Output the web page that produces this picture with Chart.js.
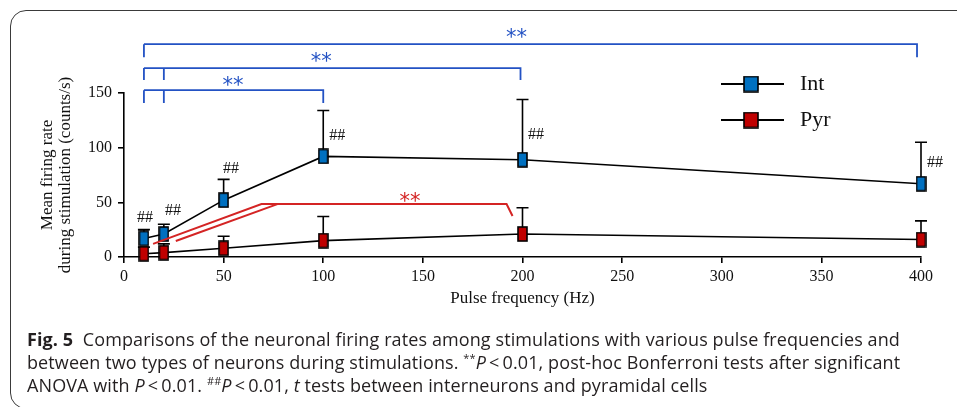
<!DOCTYPE html>
<html>
<head>
<meta charset="utf-8">
<script src="https://cdn.jsdelivr.net/npm/chart.js@4"></script>
<style>
  body { margin: 0; background: #fff; }
  #wrap { position: relative; width: 957px; height: 407px; overflow: hidden; }
  #frame {
    position: absolute; left: 10px; top: 10px; width: 1000px; height: 397px;
    border: 1.5px solid #3a3a3a; border-radius: 16px;
  }
  #cap {
    position: absolute; left: 27px; top: 328px;
    font-family: "Open Sans", sans-serif; font-size: 18px; line-height: 23px;
    letter-spacing: 0.1px; color: #231f20; white-space: nowrap;
  }
  #cap sup { font-size: 11px; line-height: 0; }
</style>
</head>
<body>
<div id="wrap">
  <canvas id="firing" width="957" height="407"></canvas>
  <div id="frame"></div>
  <div id="cap">
    <b>Fig. 5</b>&nbsp; Comparisons of the neuronal firing rates among stimulations with various pulse frequencies and<br>
    between two types of neurons during stimulations. <sup>**</sup><i>P</i>&thinsp;&lt;&thinsp;0.01, post-hoc Bonferroni tests after significant<br>
    ANOVA with <i>P</i>&thinsp;&lt;&thinsp;0.01. <sup>##</sup><i>P</i>&thinsp;&lt;&thinsp;0.01, <i>t</i> tests between interneurons and pyramidal cells
  </div>
</div>
<script>
const freqs = [10, 20, 50, 100, 200, 400];
const intMean = [17, 21, 52, 92, 89, 67];
const intErr = [8, 9, 19, 42, 55, 38];
const pyrMean = [3, 4, 8, 15, 21, 16];
const pyrErr = [6, 8, 11, 22, 24, 17];

// "##" marks next to Int points (data coords)
const hashMarks = [[10.5, 35.6], [24.6, 42], [53.7, 81], [107, 110.6], [206.8, 111.5], [407, 86]];

// blue ** brackets for Int
const blueBrackets = [
  { y: 194.7, end: 182.8, stems: [10], to: 398, star: [197, 205.5] },
  { y: 172.8, end: 161.8, stems: [10, 20], to: 199, star: [99, 183.5] },
  { y: 152.6, end: 140.8, stems: [10, 20], to: 100, star: [54.7, 161.5] },
];
// red ** bracket for Pyr
const redLines = [
  [[14.6, 12], [69, 48.4], [192, 48.4], [195, 37.5]],
  [[26, 14.6], [77, 48.4]],
];
const redStar = [143.5, 55.5];

const BLUE = "#0070c0", RED = "#c00000";
const SIG_BLUE = "#2352c4", SIG_RED = "#d42424";
const SERIF = "'Liberation Serif', 'Times New Roman', serif";
const STAR_FONT = "21px 'DejaVu Sans', sans-serif";

function box(fill, w, h) {
  const c = document.createElement("canvas");
  c.width = w; c.height = h;
  const g = c.getContext("2d");
  g.fillStyle = fill;
  g.fillRect(1, 1, w - 2, h - 2);
  g.strokeStyle = "#000";
  g.lineWidth = 1.6;
  g.strokeRect(1, 1, w - 2, h - 2);
  return c;
}

const series = [
  { label: "Int", mean: intMean, err: intErr, color: BLUE },
  { label: "Pyr", mean: pyrMean, err: pyrErr, color: RED },
];

const extras = {
  id: "extras",
  beforeDatasetsDraw(chart) {
    const { ctx, scales: { x, y } } = chart;
    ctx.save();
    ctx.strokeStyle = "#000";
    ctx.lineWidth = 1.6;
    series.forEach((s, di) => {
      chart.getDatasetMeta(di).data.forEach((pt, i) => {
        const top = y.getPixelForValue(s.mean[i] + s.err[i]);
        ctx.beginPath();
        ctx.moveTo(pt.x, pt.y);
        ctx.lineTo(pt.x, top);
        ctx.moveTo(pt.x - 6, top);
        ctx.lineTo(pt.x + 6, top);
        ctx.stroke();
      });
    });
    ctx.restore();
  },
  afterDraw(chart) {
    const { ctx, scales: { x, y } } = chart;
    const px = (v) => x.getPixelForValue(v);
    const py = (v) => y.getPixelForValue(v);
    ctx.save();

    // ## marks
    ctx.fillStyle = "#111";
    ctx.font = "16px " + SERIF;
    ctx.textAlign = "center";
    ctx.textBaseline = "middle";
    hashMarks.forEach(([hx, hy]) => ctx.fillText("##", px(hx), py(hy)));

    // blue brackets
    ctx.textBaseline = "alphabetic";
    ctx.strokeStyle = SIG_BLUE;
    ctx.fillStyle = SIG_BLUE;
    ctx.lineWidth = 1.8;
    ctx.font = STAR_FONT;
    blueBrackets.forEach((b) => {
      ctx.beginPath();
      ctx.moveTo(px(b.stems[0]), py(b.y));
      ctx.lineTo(px(b.to), py(b.y));
      ctx.lineTo(px(b.to), py(b.end));
      b.stems.forEach((sx) => {
        ctx.moveTo(px(sx), py(b.y));
        ctx.lineTo(px(sx), py(b.end));
      });
      ctx.stroke();
      ctx.fillText("**", px(b.star[0]), py(b.star[1]) + 12);
    });

    // red bracket
    ctx.strokeStyle = SIG_RED;
    ctx.fillStyle = SIG_RED;
    ctx.lineWidth = 2;
    redLines.forEach((ln) => {
      ctx.beginPath();
      ln.forEach(([lx, ly], k) => k ? ctx.lineTo(px(lx), py(ly)) : ctx.moveTo(px(lx), py(ly)));
      ctx.stroke();
    });
    ctx.fillText("**", px(redStar[0]), py(redStar[1]) + 12);

    // legend
    ctx.textAlign = "left";
    ctx.textBaseline = "middle";
    ctx.font = "22px " + SERIF;
    series.forEach((s, i) => {
      const ly = 84 + i * 36;
      ctx.strokeStyle = "#000";
      ctx.lineWidth = 2;
      ctx.beginPath();
      ctx.moveTo(721, ly);
      ctx.lineTo(784, ly);
      ctx.stroke();
      ctx.drawImage(box(s.color, 16, 17), 743, ly - 8.5);
      ctx.fillStyle = "#111";
      ctx.fillText(s.label, 800, ly);
    });
    ctx.restore();
  },
};

new Chart(document.getElementById("firing"), {
  type: "line",
  data: {
    datasets: series.map((s) => ({
      label: s.label,
      data: freqs.map((f, i) => ({ x: f, y: s.mean[i] })),
      borderColor: "#000",
      borderWidth: 1.6,
      tension: 0,
      pointStyle: box(s.color, 11, 16),
      pointRadius: 8,
      clip: false,
    })),
  },
  options: {
    responsive: false,
    animation: false,
    layout: { padding: { top: 93, left: 38, right: 36, bottom: 98 } },
    plugins: { legend: { display: false }, tooltip: { enabled: false } },
    scales: {
      x: {
        type: "linear",
        min: 0,
        max: 400,
        afterFit: (s) => { s.height = 52; },
        border: { color: "#000", width: 1.6 },
        grid: { drawOnChartArea: false, color: "#000", lineWidth: 1.6, tickLength: 6 },
        ticks: { stepSize: 50, color: "#111", padding: 4, font: { family: SERIF, size: 16 } },
        title: {
          display: true,
          text: "Pulse frequency (Hz)",
          color: "#111",
          padding: { top: 0, bottom: 0 },
          font: { family: SERIF, size: 17 },
        },
      },
      y: {
        min: 0,
        max: 150,
        afterFit: (s) => { s.width = 86; },
        border: { color: "#000", width: 1.6 },
        grid: { drawOnChartArea: false, color: "#000", lineWidth: 1.6, tickLength: 6 },
        ticks: { stepSize: 50, color: "#111", padding: 6, font: { family: SERIF, size: 16 } },
        title: {
          display: true,
          text: ["Mean firing rate", "during stimulation (counts/s)"],
          color: "#111",
          padding: { top: 0, bottom: 0 },
          font: { family: SERIF, size: 17, lineHeight: 1.08 },
        },
      },
    },
  },
  plugins: [extras],
});
</script>
</body>
</html>
